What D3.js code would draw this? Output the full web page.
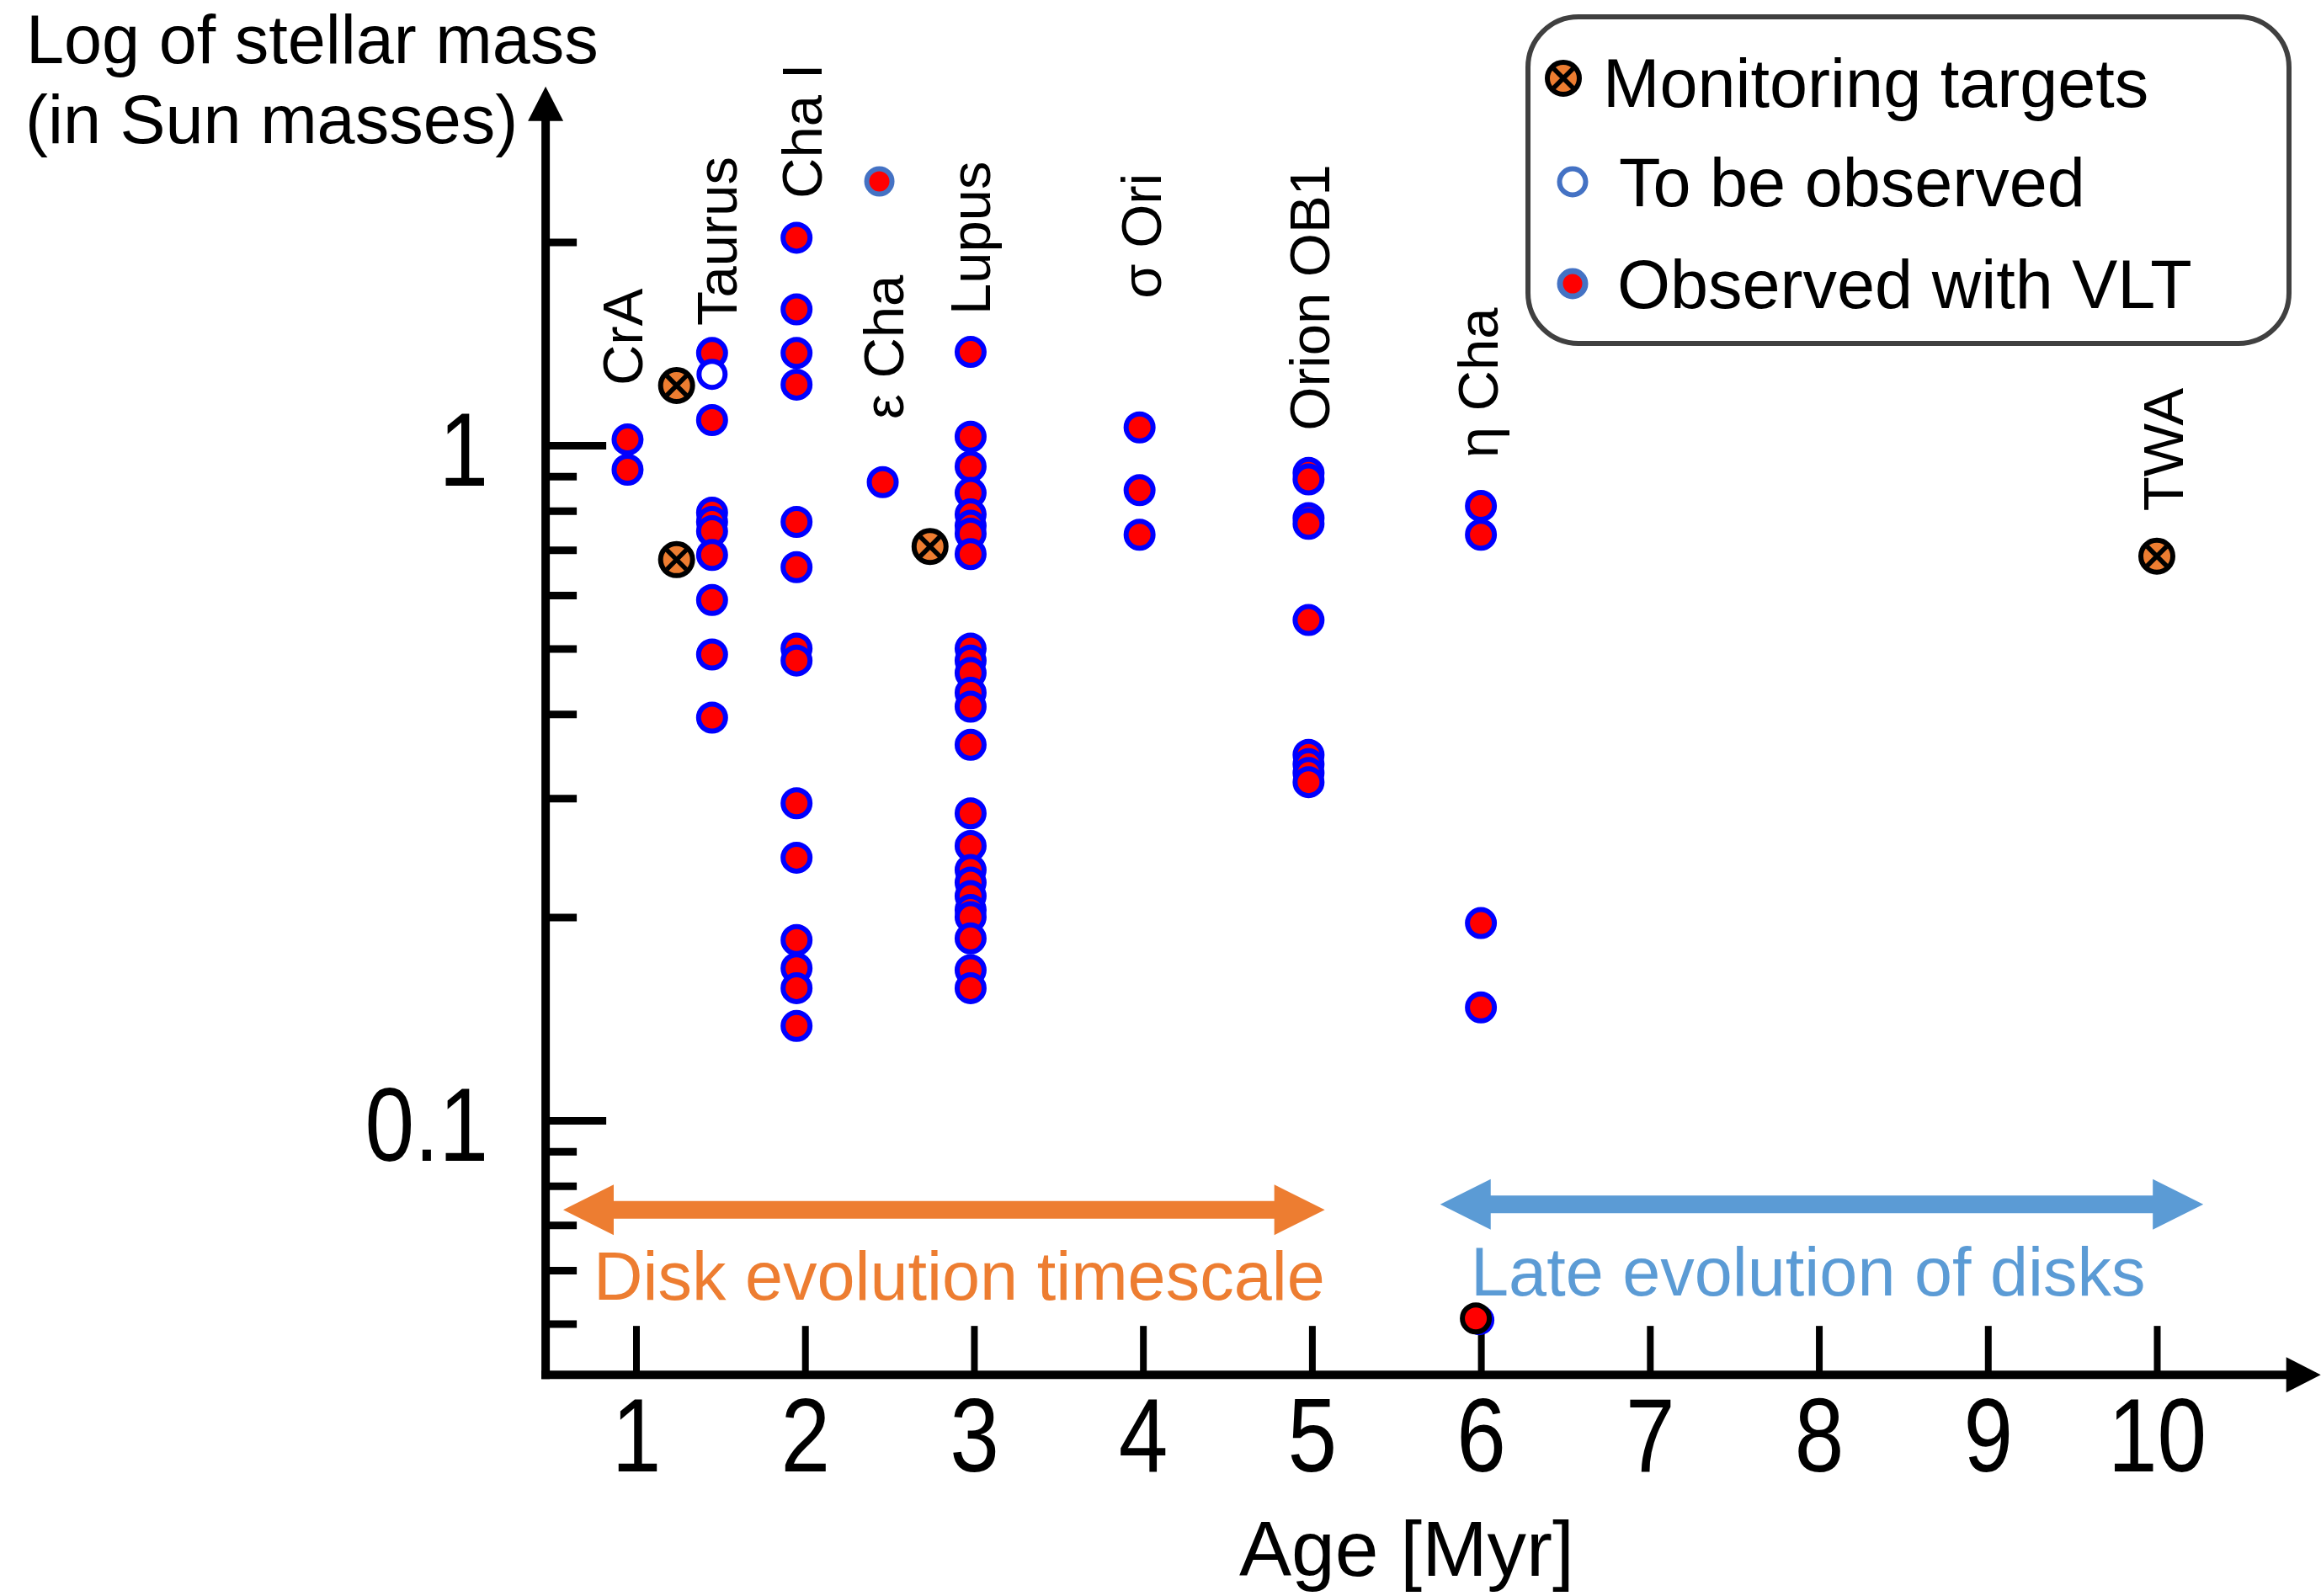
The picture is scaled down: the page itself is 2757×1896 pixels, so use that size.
<!DOCTYPE html>
<html><head><meta charset="utf-8">
<script src="https://cdn.jsdelivr.net/npm/d3@7"></script>
<style>
html,body{margin:0;padding:0;background:#fff;}
svg{display:block;}
text{font-family:"Liberation Sans",Arial,Helvetica,sans-serif;}
</style>
</head><body>
<svg id="chart" width="2757" height="1896"></svg>
<script>
// ---------------- data ----------------
const xTickValues = [1, 2, 3, 4, 5, 6, 7, 8, 9, 10];
const yMinorTicks = [2, 1, 0.9, 0.8, 0.7, 0.6, 0.5, 0.4, 0.3, 0.2, 0.1, 0.09, 0.08, 0.07, 0.06, 0.05];
const yMajorTicks = [1, 0.1];
const yTickLabels = ["1", "0.1"];

const groupNames  = ["CrA", "Taurus", "Cha I", "ε Cha", "Lupus", "σ Ori", "Orion OB1", "η Cha", "TWA"];
const groupAges   = [0.95, 1.45, 1.95, 2.46, 2.98, 3.98, 4.98, 6.0, 10.0];
const labelAges   = [1.037, 1.595, 2.10, 2.58, 3.094, 4.105, 5.105, 6.10, 10.155];
const labelMasses = [1.226, 1.503, 2.32, 1.093, 1.56, 1.649, 1.051, 0.957, 0.799];

// observed with VLT (masses in Sun masses), one list per group
const obsCrA    = [1.02, 0.92];
const obsTaurus = [1.37, 1.09, 0.795, 0.77, 0.746, 0.688, 0.59, 0.49, 0.395];
const obsChaI   = [2.03, 1.59, 1.37, 1.23, 0.77, 0.66, 0.50, 0.48, 0.295, 0.245, 0.185, 0.168, 0.157, 0.138];
const obsEpsCha = [0.882];
const obsLupus  = [1.375, 1.03, 0.93, 0.85, 0.79, 0.76, 0.74, 0.69, 0.50, 0.48, 0.46, 0.43, 0.41, 0.36,
                   0.285, 0.255, 0.235, 0.225, 0.215, 0.205, 0.20, 0.186, 0.167, 0.157];
const obsSigOri = [1.063, 0.858, 0.737];
const obsOrion  = [0.91, 0.89, 0.78, 0.765, 0.551, 0.348, 0.337, 0.327, 0.317];
const obsEtaCha = [0.813, 0.737, 0.196, 0.147];
const obsTWA    = [];
const observedByGroup = [obsCrA, obsTaurus, obsChaI, obsEpsCha, obsLupus, obsSigOri, obsOrion, obsEtaCha, obsTWA];

// to be observed
const plannedAges   = [1.45];
const plannedMasses = [1.274];

// monitoring targets
const monitorAges   = [1.24, 1.24, 2.74, 10.0];
const monitorMasses = [1.226, 0.677, 0.708, 0.685];

// observed, drawn in the legend style
const highlightAges   = [2.44];
const highlightMasses = [2.46];

// observed, outlined in black
const outlinedAges   = [5.97];
const outlinedMasses = [0.0509];

// range annotations
const spanNames  = ["Disk evolution timescale", "Late evolution of disks"];
const spanFrom   = [0.569, 5.759];
const spanTo     = [5.076, 10.275];
const spanMass   = [0.0737, 0.0751];
const spanTextAge  = [0.748, 5.94];
const spanTextMass = [0.0542, 0.0551];
const spanColors = ["#ED7D31", "#5B9BD5"];

const legendLabels = ["Monitoring targets", "To be observed", "Observed with VLT"];

// ---------------- chart ----------------
const svg = d3.select("#chart");
const W = 2757, H = 1896;
svg.append("rect").attr("width", W).attr("height", H).attr("fill", "#fff");

const x = d3.scaleLinear().domain([1, 10]).range([755.5, 2562]);
const y = d3.scaleLog().domain([0.1, 1]).range([1331, 529]);
const xMin = 0.465, yMin = 0.042, yMax = 3.4, xMax = 10.97;
const X0 = x(xMin), Y0 = y(yMin);

const RED = "#FF0000", BLUE = "#0000FF", ORANGE = "#ED7D31", LBLUE = "#4472C4";

// axis titles
svg.append("text").attr("x", 31).attr("y", 75).attr("font-size", 81).text("Log of stellar mass");
svg.append("text").attr("x", 30).attr("y", 170).attr("font-size", 81).text("(in Sun masses)");
svg.append("text").attr("x", 1472).attr("y", 1872).attr("font-size", 93).text("Age [Myr]");

// Y ticks (inward) using d3 axis
const yTicksG = svg.append("g").attr("transform", `translate(${X0},0)`)
  .call(d3.axisRight(y).tickValues(yMinorTicks).tickSize(37).tickFormat(""));
yTicksG.select(".domain").remove();
yTicksG.selectAll(".tick line")
  .attr("stroke", "#000").attr("stroke-width", 9)
  .attr("x2", d => yMajorTicks.includes(d) ? 72 : 37);

// Y labels
const yLabG = svg.append("g").attr("transform", `translate(${X0},0)`)
  .call(d3.axisLeft(y).tickValues(yMajorTicks).tickSize(0).tickFormat((d, i) => yTickLabels[i]));
yLabG.select(".domain").remove();
yLabG.selectAll(".tick text")
  .attr("font-family", null).attr("font-size", 124).attr("fill", "#000")
  .attr("text-anchor", "end").attr("x", -68 / 0.85).attr("y", 47).attr("dy", null)
  .attr("transform", "scale(0.85,1)");

// X ticks (upward)
const xTicksG = svg.append("g").attr("transform", `translate(0,${Y0})`)
  .call(d3.axisTop(x).tickValues(xTickValues).tickSize(58).tickFormat(""));
xTicksG.select(".domain").remove();
xTicksG.selectAll(".tick line").attr("stroke", "#000").attr("stroke-width", 8);

// X labels
const xLabG = svg.append("g").attr("transform", `translate(0,${Y0})`)
  .call(d3.axisBottom(x).tickValues(xTickValues).tickSize(0).tickFormat(d3.format("d")));
xLabG.select(".domain").remove();
xLabG.selectAll(".tick text")
  .attr("font-family", null).attr("font-size", 124).attr("fill", "#000")
  .attr("y", 115).attr("dy", null).attr("transform", "scale(0.85,1)");

// axis lines with arrows
const yTop = y(yMax), xRight = x(xMax);
svg.append("line").attr("x1", X0).attr("x2", X0).attr("y1", Y0 + 5).attr("y2", yTop + 35)
  .attr("stroke", "#000").attr("stroke-width", 10);
svg.append("path").attr("d", `M${X0 - 21},${yTop + 41} L${X0},${yTop} L${X0 + 21},${yTop + 41} Z`).attr("fill", "#000");
svg.append("line").attr("x1", X0 - 5).attr("x2", xRight - 35).attr("y1", Y0).attr("y2", Y0)
  .attr("stroke", "#000").attr("stroke-width", 10);
svg.append("path").attr("d", `M${xRight - 41},${Y0 - 21} L${xRight},${Y0} L${xRight - 41},${Y0 + 21} Z`).attr("fill", "#000");

// span arrows
spanNames.forEach((name, i) => {
  const x1 = x(spanFrom[i]), x2 = x(spanTo[i]), yc = y(spanMass[i]);
  const hl = 60, hh = 30, sh = 10.5;
  const d = `M${x1},${yc} L${x1 + hl},${yc - hh} L${x1 + hl},${yc - sh} L${x2 - hl},${yc - sh} L${x2 - hl},${yc - hh}
    L${x2},${yc} L${x2 - hl},${yc + hh} L${x2 - hl},${yc + sh} L${x1 + hl},${yc + sh} L${x1 + hl},${yc + hh} Z`;
  svg.append("path").attr("d", d).attr("fill", spanColors[i]);
  svg.append("text").attr("x", x(spanTextAge[i])).attr("y", y(spanTextMass[i]))
    .attr("font-size", 81).attr("fill", spanColors[i]).text(name);
});

// group labels
groupNames.forEach((name, i) => {
  svg.append("text")
    .attr("transform", `translate(${x(labelAges[i])},${y(labelMasses[i])}) rotate(-90)`)
    .attr("font-size", 67).attr("fill", "#000").text(name);
});

// marker helpers
function observed(g, cx, cy, stroke) {
  g.append("circle").attr("cx", cx).attr("cy", cy).attr("r", 16)
    .attr("fill", RED).attr("stroke", stroke).attr("stroke-width", 6);
}
function planned(g, cx, cy, stroke) {
  g.append("circle").attr("cx", cx).attr("cy", cy).attr("r", 15.5)
    .attr("fill", "#fff").attr("stroke", stroke).attr("stroke-width", 6);
}
function monitor(g, cx, cy) {
  g.append("circle").attr("cx", cx).attr("cy", cy).attr("r", 19)
    .attr("fill", ORANGE).attr("stroke", "#000").attr("stroke-width", 6);
  const a = 11.5;
  g.append("path").attr("d", `M${cx - a},${cy - a} L${cx + a},${cy + a} M${cx - a},${cy + a} L${cx + a},${cy - a}`)
    .attr("stroke", "#000").attr("stroke-width", 5.5);
}

const pts = svg.append("g");
observedByGroup.forEach((list, gi) => {
  list.forEach(m => observed(pts, x(groupAges[gi]), y(m), BLUE));
});
plannedAges.forEach((a, i) => planned(pts, x(a), y(plannedMasses[i]), BLUE));
highlightAges.forEach((a, i) => {
  pts.append("circle").attr("cx", x(a)).attr("cy", y(highlightMasses[i])).attr("r", 15)
    .attr("fill", RED).attr("stroke", LBLUE).attr("stroke-width", 6);
});
outlinedAges.forEach((a, i) => {
  const cx = x(a), cy = y(outlinedMasses[i]);
  pts.append("circle").attr("cx", cx + 4).attr("cy", cy + 2).attr("r", 18).attr("fill", BLUE);
  pts.append("circle").attr("cx", cx).attr("cy", cy).attr("r", 16)
    .attr("fill", RED).attr("stroke", "#000").attr("stroke-width", 6);
});
monitorAges.forEach((a, i) => monitor(pts, x(a), y(monitorMasses[i])));

// legend
const lg = svg.append("g");
lg.append("rect").attr("x", 1815).attr("y", 20).attr("width", 904).attr("height", 388)
  .attr("rx", 60).attr("ry", 60).attr("fill", "#fff").attr("stroke", "#404040").attr("stroke-width", 6);
const legendMarkerX = [1857, 1868, 1868];
const legendMarkerY = [93, 216, 337];
const legendTextX = [1904, 1923, 1921];
const legendTextY = [127, 245, 366];
legendLabels.forEach((label, i) => {
  if (i === 0) monitor(lg, legendMarkerX[i], legendMarkerY[i]);
  else if (i === 1) planned(lg, legendMarkerX[i], legendMarkerY[i], LBLUE);
  else {
    lg.append("circle").attr("cx", legendMarkerX[i]).attr("cy", legendMarkerY[i]).attr("r", 15)
      .attr("fill", RED).attr("stroke", LBLUE).attr("stroke-width", 7);
  }
  lg.append("text").attr("x", legendTextX[i]).attr("y", legendTextY[i]).attr("font-size", 81)
    .attr("fill", "#000").text(label);
});
</script>
</body></html>
